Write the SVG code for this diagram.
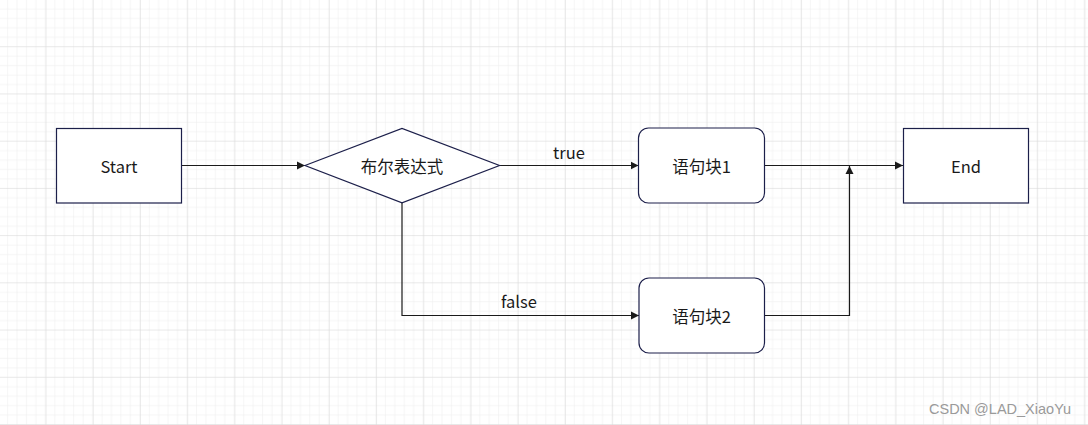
<svg xmlns="http://www.w3.org/2000/svg" width="1088" height="425" viewBox="0 0 1088 425">
<style>
.node{fill:#ffffff;stroke:#1c1f4a;stroke-width:1.2}
.lbl{font-family:"Noto Sans CJK SC","Microsoft YaHei",sans-serif;font-size:16.5px;fill:#1a1a1a;text-anchor:middle;dominant-baseline:central}
.edge{fill:none;stroke:#1a1a1a;stroke-width:1.2}
.wm{font-family:"Liberation Sans",Arial,sans-serif;font-size:14.5px;fill:#9a9a9a}
</style>
<defs>
<pattern id="minor" patternUnits="userSpaceOnUse" x="-0.7" y="0" width="9.444" height="9.444">
<path d="M9.444 0V9.444M0 9.444H9.444" fill="none" stroke="#ececec" stroke-width="1"/>
</pattern>
<pattern id="major" patternUnits="userSpaceOnUse" x="-0.7" y="0" width="47.22" height="47.22">
<rect width="47.22" height="47.22" fill="url(#minor)"/>
<path d="M47.22 0V47.22M0 47.22H47.22" fill="none" stroke="#d9d9d9" stroke-width="1"/>
</pattern>
<marker id="arr" markerUnits="userSpaceOnUse" markerWidth="9" markerHeight="9" refX="8" refY="4.5" orient="auto">
<path d="M0,0.5 L8,4.5 L0,8.5 z" fill="#1a1a1a"/>
</marker>
</defs>
<rect width="1088" height="425" fill="#ffffff"/>
<rect width="1088" height="425" fill="url(#major)"/>
<g id="connectors">
<path class="edge" d="M181.5 165.5H305" marker-end="url(#arr)"/>
<path class="edge" d="M499.5 165.5H638.5" marker-end="url(#arr)"/>
<path class="edge" d="M402 203V315.5H639" marker-end="url(#arr)"/>
<path class="edge" d="M764.5 165.5H903" marker-end="url(#arr)"/>
<path class="edge" d="M764.5 315.5H849.5V166" marker-end="url(#arr)"/>
<text class="lbl" x="569" y="152">true</text>
<text class="lbl" x="519" y="301">false</text>
</g>
<g id="start">
<rect class="node" x="56.5" y="128.5" width="125" height="74.5"/>
<text class="lbl" x="119" y="166">Start</text>
</g>
<g id="cond">
<polygon class="node" points="305,165.5 402,128.5 499.5,165.5 402,202.8"/>
<text class="lbl" x="402" y="166">布尔表达式</text>
</g>
<g id="block1">
<rect class="node" x="638.5" y="128" width="126" height="75" rx="10" ry="10"/>
<text class="lbl" x="701.5" y="166">语句块1</text>
</g>
<g id="block2">
<rect class="node" x="639" y="278" width="125.5" height="75" rx="10" ry="10"/>
<text class="lbl" x="701.5" y="316">语句块2</text>
</g>
<g id="end">
<rect class="node" x="903.5" y="128.5" width="125" height="74.5"/>
<text class="lbl" x="966" y="166">End</text>
</g>
<text class="wm" x="929" y="414">CSDN @LAD_XiaoYu</text>
</svg>
